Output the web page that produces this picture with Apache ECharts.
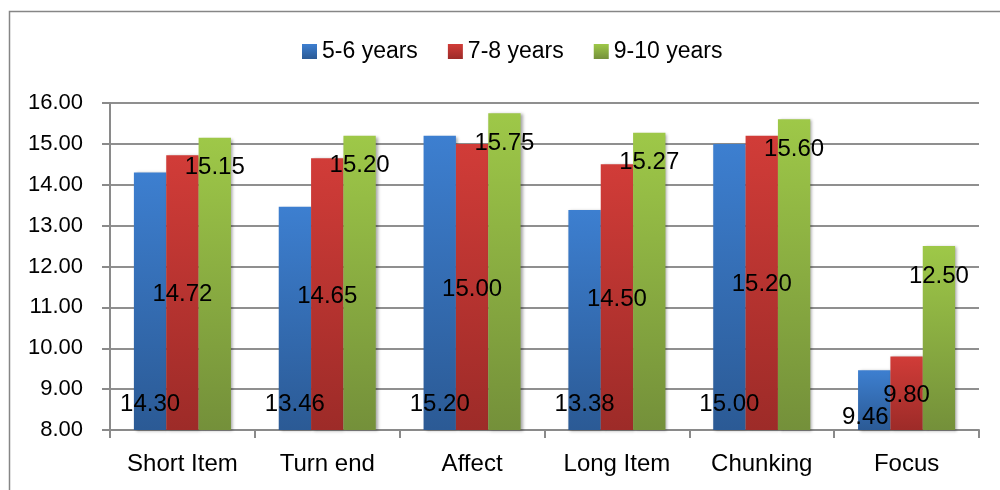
<!DOCTYPE html>
<html>
<head>
<meta charset="utf-8">
<script src="https://cdn.jsdelivr.net/npm/echarts@6/dist/echarts.min.js"></script>
<style>
html,body{margin:0;padding:0;background:#fff;}
#main{width:1000px;height:490px;}
</style>
</head>
<body>
<div id="main"></div>
<script>
var categories = ['Short Item', 'Turn end', 'Affect', 'Long Item', 'Chunking', 'Focus'];
var seriesNames = ['5-6 years', '7-8 years', '9-10 years'];
var years56 = [14.30, 13.46, 15.20, 13.38, 15.00, 9.46];
var years78 = [14.72, 14.65, 15.00, 14.50, 15.20, 9.80];
var years910 = [15.15, 15.20, 15.75, 15.27, 15.60, 12.50];
var yTicks = [8, 9, 10, 11, 12, 13, 14, 15, 16];

var FONT = 'Liberation Sans';
var chart = echarts.init(document.getElementById('main'), null, {renderer: 'canvas'});

function grad(top, bottom) {
  return new echarts.graphic.LinearGradient(0, 0, 0, 1, [
    {offset: 0, color: top}, {offset: 1, color: bottom}
  ]);
}
var colors = [grad('#3d7fd0', '#2b5a95'), grad('#d13c38', '#9d2b28'), grad('#9ec848', '#74903a')];
var legendColors = [grad('#3d7fd0', '#2b5a95'), grad('#d13c38', '#9d2b28'), grad('#9ec848', '#74903a')];

var labelBase = {show: true, color: '#000', fontFamily: FONT, fontSize: 24,
  formatter: function (p) { return p.value.toFixed(2); }};

function mkData(arr, special) {
  return arr.map(function (v, i) {
    var d = {value: v};
    if (special && special[i]) d.label = special[i];
    return d;
  });
}

var shadow = {shadowColor: 'rgba(0,0,0,0.35)', shadowBlur: 3, shadowOffsetX: 2, shadowOffsetY: 1};

var option = {
  animation: false,
  backgroundColor: '#fff',
  graphic: [{
    type: 'rect', left: 7, top: 9, z: -1,
    shape: {x: 0, y: 0, width: 1010, height: 500},
    style: {fill: 'none', stroke: '#868686', lineWidth: 1.5}
  }],
  legend: {
    left: 297, top: 35,
    itemWidth: 15, itemHeight: 15, itemGap: 30,
    icon: 'rect',
    textStyle: {fontFamily: FONT, fontSize: 23, color: '#000'},
    data: seriesNames.map(function (n, i) { return {name: n, itemStyle: {color: legendColors[i]}}; })
  },
  grid: {left: 110, right: 21, top: 103, bottom: 60, containLabel: false},
  xAxis: {
    type: 'category', data: categories,
    axisLine: {show: true, lineStyle: {color: '#8a8a8a', width: 2}},
    axisTick: {show: true, length: 8, lineStyle: {color: '#8a8a8a', width: 2}},
    axisLabel: {color: '#000', fontFamily: FONT, fontSize: 24, margin: 22}
  },
  yAxis: {
    type: 'value', min: yTicks[0], max: yTicks[yTicks.length - 1], interval: 1,
    axisLine: {show: true, lineStyle: {color: '#8a8a8a', width: 2}},
    axisTick: {show: true, length: 8, lineStyle: {color: '#8a8a8a', width: 2}},
    splitLine: {show: true, lineStyle: {color: '#8f8f8f', width: 2}},
    axisLabel: {color: '#000', fontFamily: FONT, fontSize: 22, margin: 27,
      formatter: function (v) { return v.toFixed(2); }}
  },
  series: [
    {
      name: seriesNames[0], type: 'bar', barGap: 0, barCategoryGap: '33%',
      itemStyle: Object.assign({color: colors[0]}, shadow),
      label: Object.assign({}, labelBase, {position: 'insideBottom', distance: 14}),
      data: mkData(years56, {5: {position: 'insideBottom', distance: 1, offset: [-9, 0]}})
    },
    {
      name: seriesNames[1], type: 'bar', barGap: 0, barCategoryGap: '33%',
      itemStyle: Object.assign({color: colors[1]}, shadow),
      label: Object.assign({}, labelBase, {position: 'inside', offset: [0, 2]}),
      data: mkData(years78)
    },
    {
      name: seriesNames[2], type: 'bar', barGap: 0, barCategoryGap: '33%',
      itemStyle: Object.assign({color: colors[2]}, shadow),
      label: Object.assign({}, labelBase, {position: 'insideTop', distance: 18}),
      data: mkData(years910)
    }
  ]
};
chart.setOption(option);
</script>
</body>
</html>
